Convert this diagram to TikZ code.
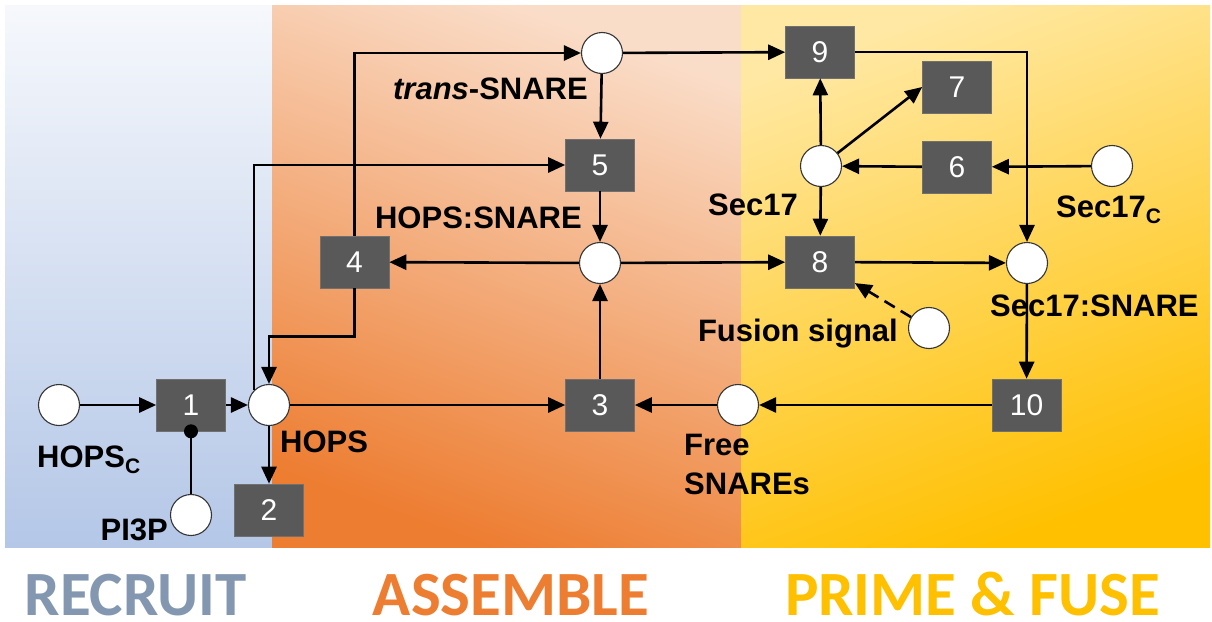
\documentclass[tikz,border=0pt]{standalone}
\usepackage{fontspec}
\setmainfont{Liberation Sans}
\newfontfamily\carlito{Carlito}
\usetikzlibrary{arrows.meta}
\definecolor{boxgray}{HTML}{595959}
\definecolor{boxedge}{HTML}{707070}
\definecolor{circgray}{HTML}{353535}
\definecolor{bluetop}{HTML}{F6F8FC}
\definecolor{bluebot}{HTML}{B4C7E7}
\definecolor{orgtop}{HTML}{FADDC9}
\definecolor{orgbot}{HTML}{ED7D31}
\definecolor{yeltop}{HTML}{FFE8A3}
\definecolor{yelbot}{HTML}{FFC000}
\definecolor{recruitc}{HTML}{8497B0}
\definecolor{assemblec}{HTML}{ED7D31}
\definecolor{primec}{HTML}{FFC000}
\begin{document}
\begin{tikzpicture}[x=1pt,y=-1pt,
  place/.style={circle, draw=circgray, fill=white, line width=1.1pt, minimum size=41pt, inner sep=0pt},
  trans/.style={rectangle, fill=boxgray, draw=boxedge, line width=0.6pt, minimum width=69pt, minimum height=52pt, inner sep=0pt, text=white, font=\fontsize{30}{30}\selectfont},
  lbl/.style={font=\bfseries\fontsize{31}{31}\selectfont, inner sep=0pt},
  phase/.style={font=\carlito\bfseries\fontsize{63}{63}\selectfont, inner sep=0pt, text depth=0pt, anchor=base},
  arc/.style={line width=2.6pt, -{Triangle[length=17pt,width=15pt]}}]
\useasboundingbox (0,0) rectangle (1212,621);
\fill[white] (0,0) rectangle (1212,621);
\shade[top color=bluetop,bottom color=bluebot] (5,5) rectangle (272,547);
\shade[top color=orgtop,bottom color=orgbot,shading angle=-20] (272,5) rectangle (741,547);
\shade[top color=yeltop,bottom color=yelbot,shading angle=20] (741,5) rectangle (1210,547);

% places
\node[place] (ts) at (602,53) {};
\node[place] (hs) at (600,263) {};
\node[place] (s17) at (821,166) {};
\node[place] (s17c) at (1112,166) {};
\node[place] (ss) at (1027,263) {};
\node[place] (fsig) at (929,328) {};
\node[place] (hc) at (59,405) {};
\node[place] (hops) at (269,405) {};
\node[place] (free) at (738,405) {};
\node[place] (pi) at (191,515) {};

% transitions
\node[trans] (b1) at (191,405) {1};
\node[trans] (b2) at (269,510) {2};
\node[trans] (b3) at (600,405) {3};
\node[trans] (b4) at (354.5,262) {4};
\node[trans] (b5) at (600,165) {5};
\node[trans] (b6) at (957,167) {6};
\node[trans] (b7) at (957,87) {7};
\node[trans] (b8) at (820,262) {8};
\node[trans] (b9) at (820,52) {9};
\node[trans] (b10) at (1026.5,405) {10};

% labels
\node[lbl, anchor=base east] (lts) at (588,99) {\textit{trans}-SNARE};
\node[lbl, anchor=base east] (lhs) at (582,228) {HOPS:SNARE};
\node[lbl, anchor=base east] (ls17) at (798,215) {Sec17};
\node[lbl, anchor=base west] (ls17c) at (1056,217) {Sec17\raisebox{-6pt}{\fontsize{21}{21}\selectfont C}};
\node[lbl, anchor=base west] (lss) at (990,316) {Sec17:SNARE};
\node[lbl, anchor=base east] (lfs) at (898,341) {Fusion signal};
\node[lbl, anchor=base west] (lhops) at (280,452) {HOPS};
\node[lbl, anchor=base west] (lhc) at (37,467) {HOPS\raisebox{-6pt}{\fontsize{21}{21}\selectfont C}};
\node[lbl, anchor=base east] (lpi) at (168,540) {PI3P};
\node[lbl, anchor=base west] (lfree1) at (684,455) {Free};
\node[lbl, anchor=base west] (lfree2) at (684,494) {SNAREs};

% connectors
\draw[arc] (hc) -- (b1);
\draw[arc] (b1) -- (hops);
\draw[arc] (hops) -- (b2);
\draw[arc] (hops) -- (b3);
\draw[arc] (free) -- (b3);
\draw[arc] (b10) -- (free);
\draw[arc] (ss) -- (b10);
\draw[arc] (b3) -- (hs);
\draw[arc] (hs) -- (b4);
\draw[arc] (hs) -- (b8);
\draw[arc] (b8) -- (ss);
\draw[arc] (ts) -- (b5);
\draw[arc] (b5) -- (hs);
\draw[arc] (ts) -- (b9);
\draw[arc] (s17) -- (b9);
\draw[arc] (s17) -- (b8);
\draw[arc] (s17) -- (b7.west);
\draw[arc] (b6) -- (s17);
\draw[arc] (s17c) -- (b6);
\draw[arc] (b9) -| (ss);
\draw[arc] (b4) |- (ts);
\draw[arc] (b4.south) -- ++(0,48) -| (hops);
\draw[arc] (hops.135) |- (b5);
\draw[arc, dash pattern=on 12pt off 7pt] (fsig) -- (b8);
\draw[line width=2.6pt] (pi) -- (b1.south);
\fill (b1.south) circle (7pt);

% phase titles
\node[phase, text=recruitc] (tr) at (135.5,615) {RECRUIT};
\node[phase, text=assemblec] (ta) at (511,615) {ASSEMBLE};
\node[phase, text=primec] (tp) at (972.5,615) {PRIME \& FUSE};
\end{tikzpicture}
\end{document}
